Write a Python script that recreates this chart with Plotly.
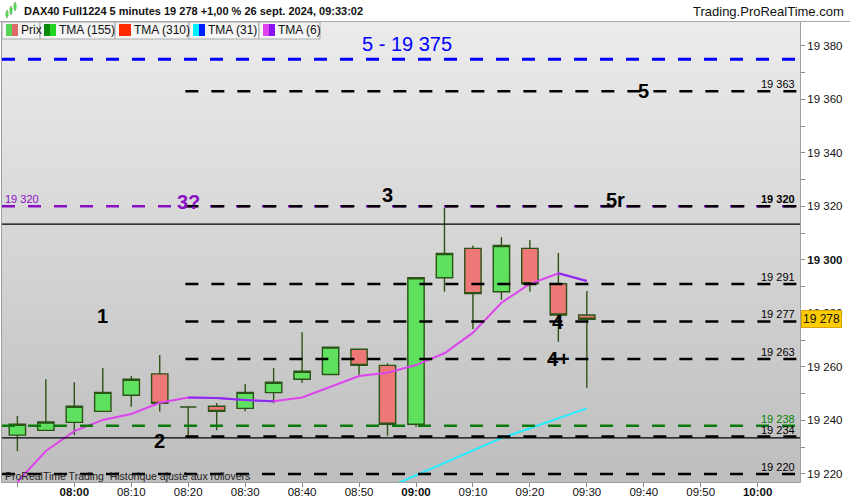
import plotly.graph_objects as go

# DAX40 5 minute candles, 26 sept. 2024
times = ["2024-09-26 07:50", "2024-09-26 07:55", "2024-09-26 08:00", "2024-09-26 08:05",
         "2024-09-26 08:10", "2024-09-26 08:15", "2024-09-26 08:20", "2024-09-26 08:25",
         "2024-09-26 08:30", "2024-09-26 08:35", "2024-09-26 08:40", "2024-09-26 08:45",
         "2024-09-26 08:50", "2024-09-26 08:55", "2024-09-26 09:00", "2024-09-26 09:05",
         "2024-09-26 09:10", "2024-09-26 09:15", "2024-09-26 09:20", "2024-09-26 09:25",
         "2024-09-26 09:30"]
opens = [19234.5, 19236.3, 19239.3, 19243.4, 19249.4, 19257.4, 19245.0, 19245.3, 19244.5, 19250.4,
         19255.4, 19257.2, 19266.6, 19260.6, 19238.6, 19293.3, 19304.3, 19288.1, 19304.3, 19291.1,
         19279.4]
highs = [19241.7, 19255.4, 19254.3, 19259.6, 19256.6, 19264.5, 19245.3, 19246.4, 19253.6, 19259.6,
         19273.0, 19267.4, 19266.6, 19261.4, 19293.3, 19319.5, 19305.4, 19308.5, 19307.4, 19302.6,
         19288.4]
lows = [19228.5, 19236.3, 19234.6, 19243.4, 19245.1, 19243.3, 19233.6, 19236.3, 19243.4, 19246.4,
        19254.1, 19257.2, 19257.1, 19234.3, 19237.6, 19288.1, 19274.2, 19285.1, 19288.1, 19269.4,
        19252.2]
closes = [19238.6, 19239.4, 19245.3, 19250.5, 19255.4, 19246.4, 19245.0, 19243.4, 19250.5, 19254.3,
          19258.4, 19267.4, 19260.6, 19238.6, 19293.3, 19302.4, 19287.4, 19305.4, 19291.1, 19279.4,
          19277.8]

tma6 = [19217.0, 19228.6, 19236.0, 19240.2, 19242.4, 19246.6, 19248.6, 19248.4, 19247.6, 19247.2,
        19248.6, 19252.6, 19256.6, 19257.8, 19260.7, 19265.1, 19272.8, 19284.0, 19291.0, 19295.0,
        19292.1]
tma31_times = times[13:]
tma31 = [19214.9, 19219.6, 19224.2, 19228.8, 19233.4, 19237.1, 19240.8, 19244.5]

# horizontal levels
blue_level = 19375
purple_level = 19320
green_level = 19238
black_levels = [19363, 19320, 19291, 19277, 19263, 19234]
black_full_level = 19220
solid_levels = [19313.4, 19233.5]
level_labels = [("19 363", 19363, "black"), ("<b>19 320</b>", 19320, "black"), ("19 291", 19291, "black"),
                ("19 277", 19277, "black"), ("19 263", 19263, "black"), ("19 238", 19238, "green"),
                ("19 234", 19234, "black"), ("19 220", 19220, "black")]
level_start = "2024-09-26 08:19:30"

# chart notes
notes = [("1", "2024-09-26 08:05", 19279.1, "black"), ("2", "2024-09-26 08:15", 19232.4, "black"),
         ("3?", "2024-09-26 08:20", 19321.5, "#8a10c8"), ("3", "2024-09-26 08:55", 19324.3, "black"),
         ("5r", "2024-09-26 09:35", 19322.4, "black"), ("5", "2024-09-26 09:40", 19363.1, "black"),
         ("4", "2024-09-26 09:25", 19276.9, "black"), ("4+", "2024-09-26 09:25", 19263.0, "black")]

ytick_vals = list(range(19220, 19390, 10))
ytick_text = ["19 220", "", "19 240", "", "19 260", "", "19 280", "", "<b>19 300</b>", "",
              "19 320", "", "19 340", "", "19 360", "", "19 380"]
xtick_vals = ["2024-09-26 07:50", "2024-09-26 08:00", "2024-09-26 08:10", "2024-09-26 08:20",
              "2024-09-26 08:30", "2024-09-26 08:40", "2024-09-26 08:50", "2024-09-26 09:00",
              "2024-09-26 09:10", "2024-09-26 09:20", "2024-09-26 09:30", "2024-09-26 09:40",
              "2024-09-26 09:50", "2024-09-26 10:00"]
xtick_text = ["", "<b>08:00</b>", "08:10", "08:20", "08:30", "08:40", "08:50", "<b>09:00</b>",
              "09:10", "09:20", "09:30", "09:40", "09:50", "<b>10:00</b>"]

legend_items = ["Prix", "TMA (155)", "TMA (310)", "TMA (31)", "TMA (6)"]
legend_colors = [("#55d455", "#e06a6a"), ("#0a8a0a", "#22d422"), ("#ff2a00", "#ff2a00"),
                 ("#00f0ff", "#0022ff"), ("#e040f0", "#8a10f0")]

FONT = "Arial, Liberation Sans, sans-serif"
L, R, T, B = 2, 800, 22, 482


def px(x):
    return (x - L) / (R - L)


def py(y):
    return (B - y) / (B - T)


fig = go.Figure()

fig.add_trace(go.Candlestick(
    x=times, open=opens, high=highs, low=lows, close=closes,
    increasing=dict(fillcolor="#5fe05f", line=dict(color="#2b5316", width=1.4)),
    decreasing=dict(fillcolor="#ee7878", line=dict(color="#2b5316", width=1.4)),
    whiskerwidth=0, hoverinfo="skip"))

# TMA(6): magenta while rising, purple while falling
fig.add_trace(go.Scatter(x=times, y=tma6, mode="lines", line=dict(color="#dd44ee", width=2),
                         hoverinfo="skip"))
fx, fy = [], []
for i in range(1, len(tma6)):
    if tma6[i] < tma6[i - 1]:
        fx += [times[i - 1], times[i], None]
        fy += [tma6[i - 1], tma6[i], None]
fig.add_trace(go.Scatter(x=fx, y=fy, mode="lines", line=dict(color="#8a2bf0", width=2),
                         hoverinfo="skip"))
fig.add_trace(go.Scatter(x=tma31_times, y=tma31, mode="lines", line=dict(color="#22eeff", width=2),
                         hoverinfo="skip"))

shapes = []
# background gradient
n = 46
for k in range(n):
    g = int(236 - (236 - 190) * (k + 0.5) / n)
    shapes.append(dict(type="rect", xref="paper", yref="paper", x0=0, x1=1,
                       y0=1 - (k + 1) / n, y1=1 - k / n, layer="below", line=dict(width=0),
                       fillcolor=f"rgb({g},{g},{g})"))

dash = "13px,13px"
shapes.append(dict(type="line", xref="paper", yref="y", x0=0, x1=1, y0=blue_level, y1=blue_level,
                   line=dict(color="#0000ff", width=3, dash=dash)))
for lv in solid_levels:
    shapes.append(dict(type="line", xref="paper", yref="y", x0=0, x1=1, y0=lv, y1=lv,
                       line=dict(color="black", width=1.2)))
shapes.append(dict(type="line", xref="paper", yref="y", x0=0, x1=1, y0=purple_level, y1=purple_level,
                   line=dict(color="#8a10c8", width=2.5, dash=dash)))
shapes.append(dict(type="line", xref="paper", yref="y", x0=0, x1=1, y0=green_level, y1=green_level,
                   line=dict(color="#0a7a0a", width=2.5, dash=dash)))
shapes.append(dict(type="line", xref="paper", yref="y", x0=0, x1=1, y0=black_full_level,
                   y1=black_full_level, line=dict(color="black", width=2.5, dash=dash)))
for lv in black_levels:
    shapes.append(dict(type="line", xref="x", yref="y", x0=level_start, x1="2024-09-26 10:07:26",
                       y0=lv, y1=lv, line=dict(color="black", width=2.5, dash=dash)))

# header line and legend cells
shapes.append(dict(type="line", xref="paper", yref="paper", x0=px(0), x1=px(850), y0=py(21.5),
                   y1=py(21.5), line=dict(color="#a8a8a8", width=1)))
cells = [(2, 40), (40, 115), (115, 189), (189, 259), (259, 320)]
annotations = []
for (c0, c1), name, (ca, cb) in zip(cells, legend_items, legend_colors):
    shapes.append(dict(type="rect", xref="paper", yref="paper", x0=px(c0), x1=px(c1),
                       y0=py(39), y1=py(22), fillcolor="#f5f5f5", line=dict(color="#a8a8a8", width=1)))
    shapes.append(dict(type="rect", xref="paper", yref="paper", x0=px(c0 + 4), x1=px(c0 + 10),
                       y0=py(36), y1=py(24), fillcolor=ca, line=dict(width=0)))
    shapes.append(dict(type="rect", xref="paper", yref="paper", x0=px(c0 + 10), x1=px(c0 + 16),
                       y0=py(36), y1=py(24), fillcolor=cb, line=dict(width=0)))
    annotations.append(dict(xref="paper", yref="paper", x=px(c0 + 17), y=py(30.5), text=name,
                            showarrow=False, xanchor="left", yanchor="middle",
                            font=dict(family=FONT, size=12, color="#111")))

# header icon
for xi, y0i, y1i in [(7, 10, 18), (11, 6, 15), (15, 2, 11)]:
    shapes.append(dict(type="line", xref="paper", yref="paper", x0=px(xi), x1=px(xi), y0=py(y1i),
                       y1=py(y0i), line=dict(color="#2b7a16", width=1)))
    shapes.append(dict(type="rect", xref="paper", yref="paper", x0=px(xi - 1.5), x1=px(xi + 1.5),
                       y0=py(y1i - 2), y1=py(y0i + 2), fillcolor="#55d455", line=dict(width=0)))

annotations.append(dict(xref="paper", yref="paper", x=px(22), y=py(11.5),
                        text="<b>DAX40 Full1224 5 minutes 19 278 +1,00 % 26 sept. 2024, 09:33:02</b>",
                        showarrow=False, xanchor="left", yanchor="middle",
                        font=dict(family=FONT, size=11, color="#111")))
annotations.append(dict(xref="paper", yref="paper", x=px(846), y=py(11.5), text="Trading.ProRealTime.com",
                        showarrow=False, xanchor="right", yanchor="middle",
                        font=dict(family=FONT, size=13, color="#111")))

for txt, lv, col in level_labels:
    annotations.append(dict(xref="paper", yref="y", x=px(797), y=lv, text=txt, showarrow=False,
                            xanchor="right", yanchor="bottom", yshift=-1,
                            font=dict(family=FONT, size=11, color=col)))
annotations.append(dict(xref="paper", yref="y", x=px(3), y=purple_level, text="19 320", showarrow=False,
                        xanchor="left", yanchor="bottom", yshift=-1,
                        font=dict(family=FONT, size=11, color="#8a10c8")))
for txt, xt, yt, col in notes:
    annotations.append(dict(x=xt, y=yt, text=f"<b>{txt}</b>", showarrow=False,
                            font=dict(family=FONT, size=20, color=col)))
annotations.append(dict(x="2024-09-26 08:58:20", y=19380.5, text="5 - 19 375", showarrow=False,
                        font=dict(family=FONT, size=20, color="#0000ff")))
annotations.append(dict(xref="paper", yref="paper", x=px(3), y=py(476),
                        text="ProRealTime Trading  Historique ajusté aux rollovers", showarrow=False,
                        xanchor="left", yanchor="middle", font=dict(family=FONT, size=10.5, color="#222")))
annotations.append(dict(xref="paper", yref="y", x=px(801), y=19278, text="19 278", showarrow=False,
                        xanchor="left", yanchor="middle", bgcolor="#ffcc00", borderpad=1,
                        bordercolor="#d9a400", borderwidth=1,
                        font=dict(family=FONT, size=12, color="#111")))

fig.update_layout(
    width=850, height=500,
    margin=dict(l=L, r=850 - R, t=T, b=500 - B, autoexpand=False),
    paper_bgcolor="white", plot_bgcolor="#d8d8d8",
    showlegend=False, hovermode=False,
    shapes=shapes, annotations=annotations,
    xaxis=dict(type="date", range=["2024-09-26 07:47:18", "2024-09-26 10:07:26"],
               rangeslider=dict(visible=False), showgrid=False, zeroline=False, automargin=False,
               tickvals=xtick_vals, ticktext=xtick_text, ticks="outside", ticklen=4,
               ticklabelstandoff=-5,
               tickcolor="#888", tickfont=dict(family=FONT, size=11.5, color="#111"),
               showline=True, linecolor="#a0a0a0", mirror=True),
    yaxis=dict(side="right", range=[19217.0, 19388.9], showgrid=False, zeroline=False, automargin=False,
               tickvals=ytick_vals, ticktext=ytick_text, ticks="outside", ticklen=4,
               tickcolor="#888", tickfont=dict(family=FONT, size=11.5, color="#111"),
               showline=True, linecolor="#a0a0a0", mirror=True),
    boxgap=0.18,
)

# the page is photographed at exactly 850x500, so drop the default body margin
fig.write_html("out.html", config={"displayModeBar": False},
               post_script="document.body.style.margin='0';")
